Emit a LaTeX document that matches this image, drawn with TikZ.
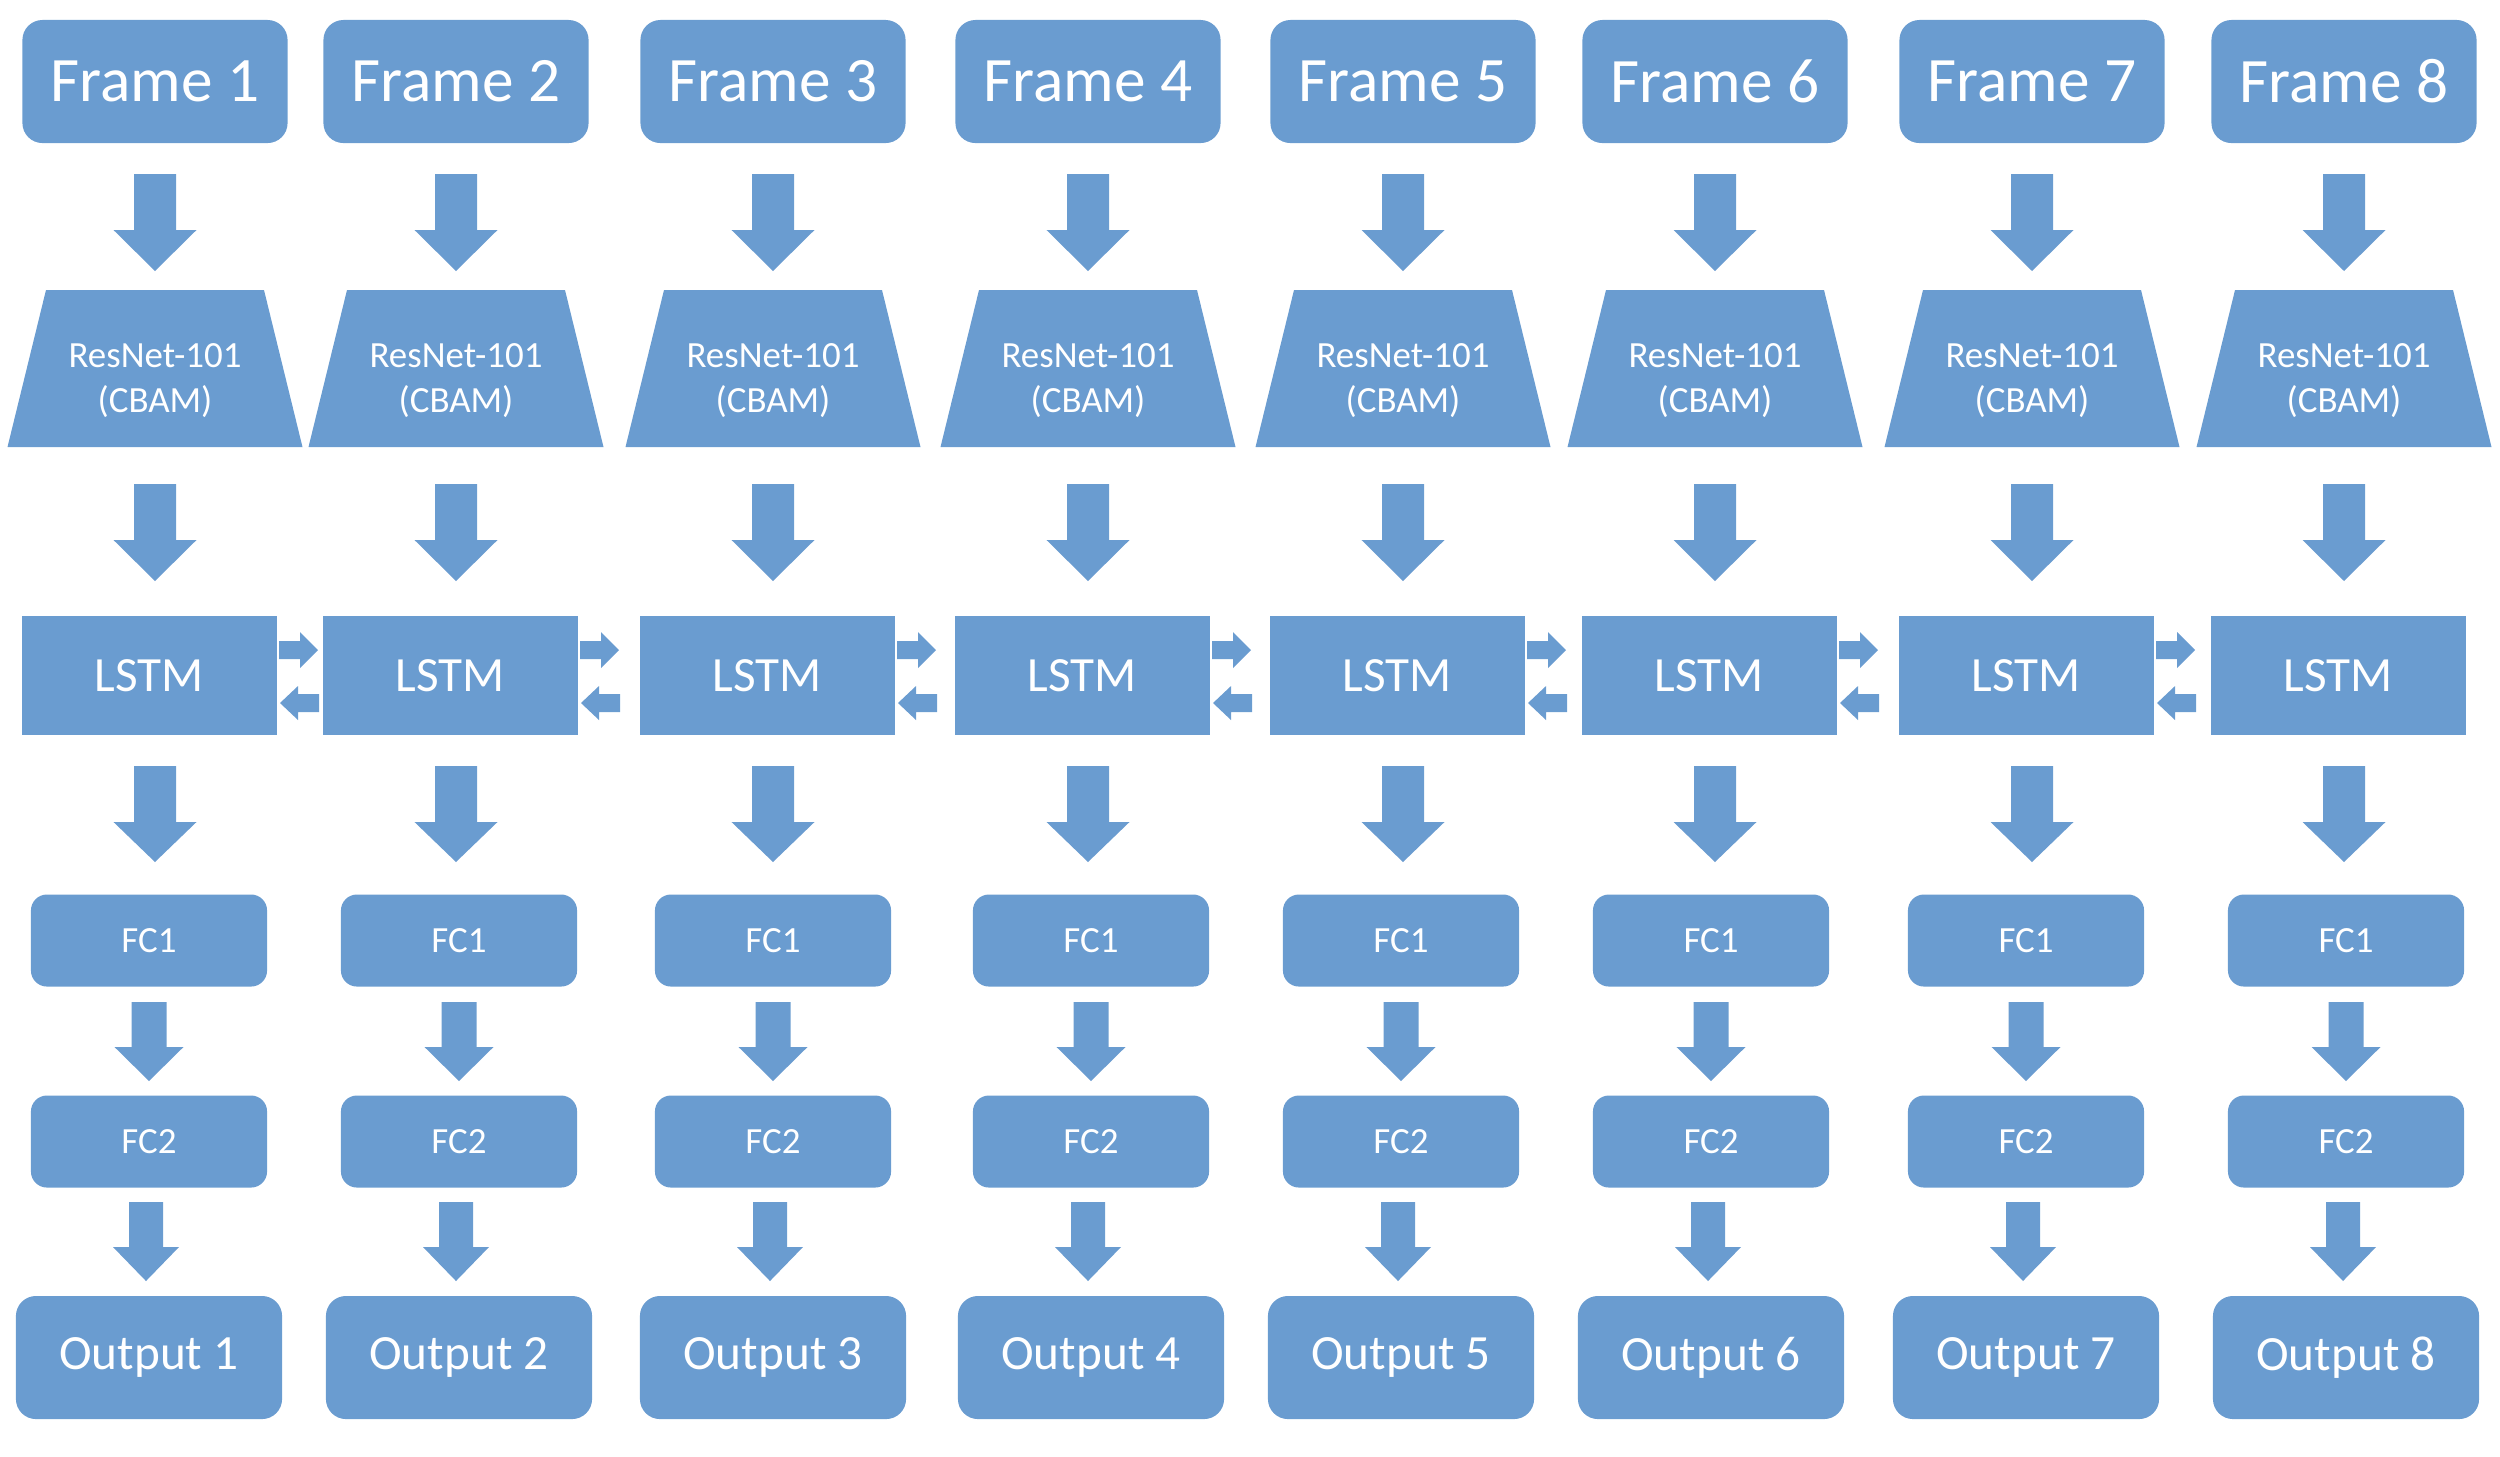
\documentclass[tikz,border=0pt]{standalone}
\usepackage{fontspec}
\setmainfont{Carlito}
\definecolor{boxblue}{RGB}{106,156,208}
% block arrows: x, y top, y head, y tip, half shaft, half head
\newcommand{\downblock}[6]{\fill[boxblue] ({#1-#5},#2) -- ({#1+#5},#2) -- ({#1+#5},#3) -- ({#1+#6},#3) -- (#1,#4) -- ({#1-#6},#3) -- ({#1-#5},#3) -- cycle;}
% side arrows: x start, x head, x tip, y, half shaft, half head
\newcommand{\sideblock}[6]{\fill[boxblue] (#1,{#4-#5}) -- (#2,{#4-#5}) -- (#2,{#4-#6}) -- (#3,#4) -- (#2,{#4+#6}) -- (#2,{#4+#5}) -- (#1,{#4+#5}) -- cycle;}
\begin{document}
\begin{tikzpicture}[x=0.01cm,y=-0.01cm]
	\tikzset{blk/.style = {fill=boxblue, text=white, inner sep=0pt, outer sep=0pt}}
	\tikzset{framebox/.style = {blk, rounded corners=0.2cm, minimum width=2.65cm, minimum height=1.23cm, font=\fontsize{18}{20}\selectfont}}
	\tikzset{nettext/.style = {text=white, align=center, inner sep=0pt, font=\fontsize{10.5}{13}\selectfont}}
	\tikzset{lstmbox/.style = {blk, minimum width=2.55cm, minimum height=1.19cm, font=\fontsize{14}{16}\selectfont}}
	\tikzset{fcbox/.style = {blk, rounded corners=0.16cm, minimum width=2.36cm, minimum height=0.92cm, font=\fontsize{10.5}{12}\selectfont}}
	\tikzset{outbox/.style = {blk, rounded corners=0.2cm, minimum width=2.66cm, minimum height=1.23cm, font=\fontsize{14}{16}\selectfont}}
	\useasboundingbox (0,0) rectangle (2500,1456);
	\foreach \a/\b [count=\i] in {155/149,456/459,773/773,1088/1091,1403/1401,1715/1711,2032/2026,2344/2346} {
		\node[framebox] (frame\i) at (\a,81.5) {Frame \i};
		\fill[boxblue] ({\a-109},290) -- ({\a+109},290) -- ({\a+147.5},447) -- ({\a-147.5},447) -- cycle;
		\node[nettext] (res\i) at (\a,380.5) {ResNet-101\\(CBAM)};
		\node[lstmbox] (lstm\i) at ({\a-5.5},675.5) {LSTM};
		\node[fcbox] (fca\i) at (\b,940.5) {FC1};
		\node[fcbox] (fcb\i) at (\b,1141.5) {FC2};
		\node[outbox] (out\i) at (\b,1357.5) {Output \i};
		\downblock{\a}{174}{230}{271}{21}{41.5}
		\downblock{\a}{484}{540}{581}{21}{41.5}
		\downblock{\a}{766}{822}{862}{21}{41.5}
		\downblock{\b}{1002}{1047}{1081}{17.5}{34.5}
		\downblock{\b-3}{1202}{1247}{1281}{17}{33}
	}
	% links between neighbouring LSTMs
	\foreach \a in {155,456,773,1088,1403,1715,2032} {
		\sideblock{\a+124}{\a+145}{\a+163}{650}{9}{18}
		\sideblock{\a+164}{\a+143}{\a+125}{703}{9}{17}
	}
\end{tikzpicture}
\end{document}
